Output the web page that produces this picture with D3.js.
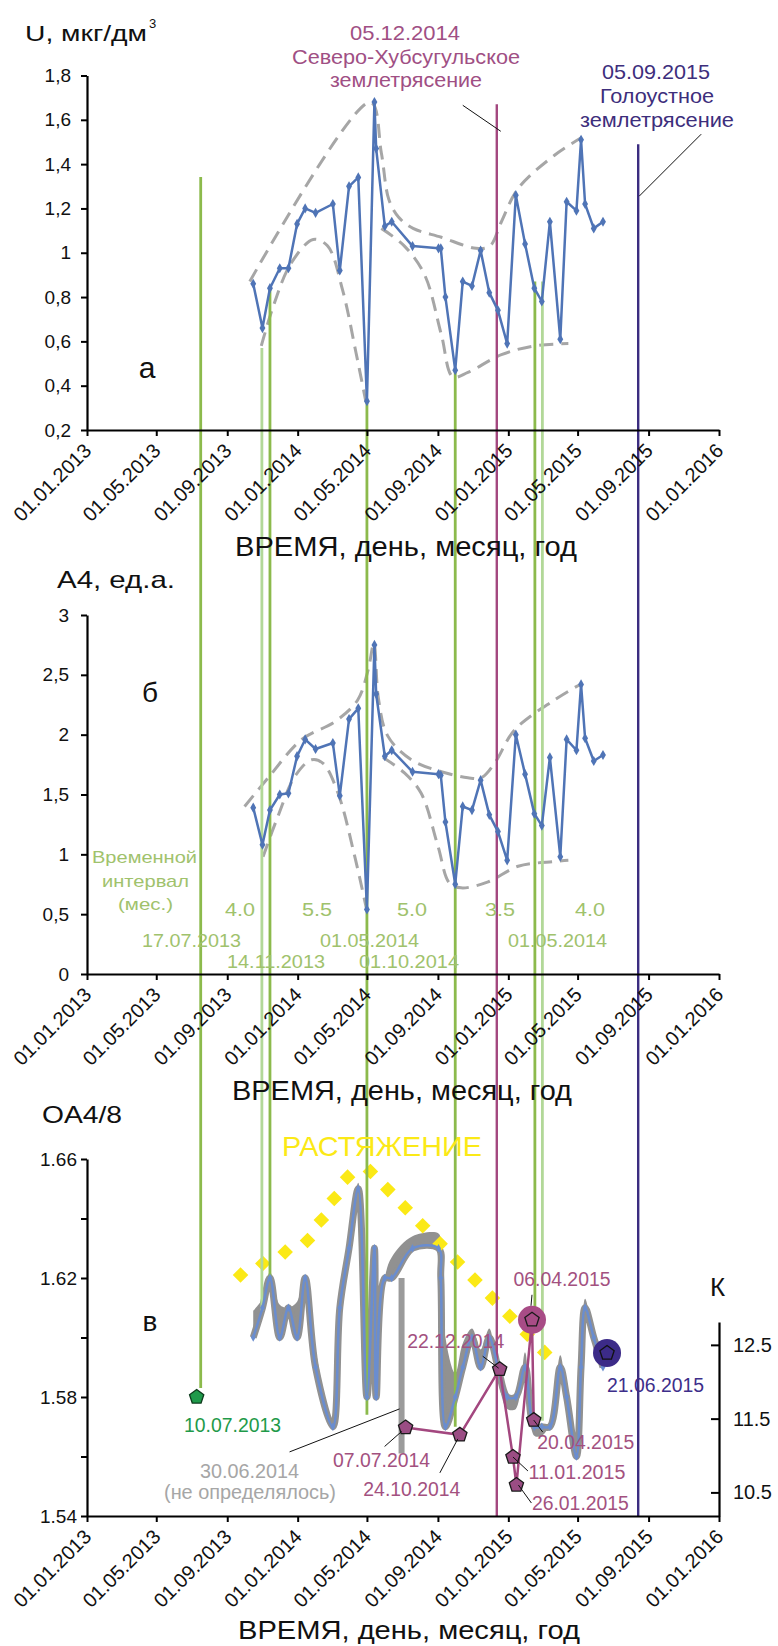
<!DOCTYPE html>
<html>
<head>
<meta charset="utf-8">
<script src="https://cdn.jsdelivr.net/npm/d3@7"></script>
<style>
  body { margin: 0; background: #fff; }
  text { font-family: "Liberation Sans", Arial, sans-serif; }
</style>
</head>
<body>
<svg id="chart"></svg>
<script>
// ---- data ----
var sampleDates = ["2013-10-16","2013-11-01","2013-11-14","2013-12-01","2013-12-16","2013-12-31",
  "2014-01-14","2014-02-01","2014-03-03","2014-03-15","2014-03-31","2014-04-16","2014-05-01",
  "2014-05-14","2014-05-17","2014-06-01","2014-06-13","2014-07-19","2014-09-02","2014-09-06",
  "2014-09-14","2014-10-01","2014-10-14","2014-10-30","2014-11-14","2014-11-29","2014-12-14",
  "2014-12-30","2015-01-14","2015-01-30","2015-02-15","2015-02-28","2015-03-14","2015-04-01",
  "2015-04-12","2015-04-29","2015-05-07","2015-05-14","2015-05-29","2015-06-14"];
var uValues = [0.86,0.66,0.84,0.93,0.93,1.13,1.20,1.18,1.22,0.92,1.30,1.34,0.33,1.68,1.47,1.12,1.14,1.03,1.02,1.02,
  0.80,0.47,0.87,0.85,1.01,0.82,0.74,0.59,1.26,1.04,0.84,0.78,1.14,0.61,1.23,1.19,1.51,1.22,1.11,1.14];
var a4Values = [1.39,1.08,1.37,1.50,1.51,1.82,1.96,1.88,1.93,1.49,2.13,2.22,0.54,2.75,2.34,1.82,1.87,1.69,1.67,1.66,
  1.27,0.75,1.40,1.37,1.62,1.33,1.19,0.95,2.00,1.67,1.34,1.24,1.81,0.98,1.96,1.87,2.42,1.97,1.78,1.83];
var oaValues = [1.60,1.61,1.62,1.60,1.61,1.60,1.62,1.59,1.57,1.61,1.63,1.65,1.58,1.63,1.58,1.62,1.62,1.63,1.63,1.62,
  1.57,1.58,1.59,1.60,1.59,1.60,1.59,1.58,1.58,1.59,1.57,1.57,1.57,1.59,1.58,1.56,1.59,1.61,1.60,1.59];
// edge of the grey band around the OA4/8 curve
var oaShade = [1.609,1.613,1.622,1.611,1.610,1.612,1.621,1.596,1.570,1.610,1.632,1.652,1.580,1.630,1.580,1.620,1.627,1.634,1.635,1.632,
  1.600,1.588,1.598,1.603,1.596,1.603,1.586,1.576,1.576,1.595,1.567,1.567,1.571,1.594,1.580,1.562,1.592,1.613,1.600,1.590];

// dashed envelopes
var uUpper = [["2013-10-10",0.87],["2014-05-07",1.68],["2014-05-26",1.45],["2014-06-08",1.24],["2014-06-25",1.16],
  ["2014-07-20",1.11],["2014-09-07",1.07],["2014-11-06",1.02],["2014-11-30",1.03],["2014-12-20",1.14],
  ["2015-01-18",1.29],["2015-03-22",1.44],["2015-05-08",1.52]];
var uLower1 = [["2013-10-30",0.58],["2013-11-20",0.76],["2013-12-20",0.95],["2014-01-28",1.06],["2014-02-22",1.03],
  ["2014-03-20",0.83],["2014-04-12",0.55],["2014-04-29",0.33]];
var uLower2 = [["2014-05-26",1.11],["2014-07-05",1.03],["2014-08-09",0.90],["2014-09-07",0.63],["2014-09-27",0.44],
  ["2014-10-23",0.46],["2014-12-20",0.54],["2015-02-16",0.58],["2015-04-15",0.59]];
var a4Upper = [["2013-10-01",1.40],["2013-11-11",1.64],["2014-01-08",1.96],["2014-03-07",2.11],["2014-04-15",2.29],
  ["2014-05-03",2.54],["2014-05-13",2.76],["2014-05-21",2.30],["2014-06-06",1.99],["2014-07-17",1.79],
  ["2014-09-07",1.69],["2014-10-23",1.64],["2014-11-15",1.64],["2014-12-08",1.76],["2015-01-12",2.04],
  ["2015-03-22",2.29],["2015-05-09",2.43]];
var a4Lower1 = [["2013-11-02",0.98],["2013-11-28",1.32],["2013-12-27",1.65],["2014-01-25",1.79],["2014-02-14",1.76],
  ["2014-03-12",1.51],["2014-04-10",0.98],["2014-04-30",0.55]];
var a4Lower2 = [["2014-05-29",1.81],["2014-07-05",1.68],["2014-08-03",1.51],["2014-09-01",1.07],["2014-09-21",0.76],
  ["2014-10-11",0.72],["2014-11-27",0.77],["2015-01-18",0.90],["2015-03-22",0.94],["2015-04-15",0.95]];

// "РАСТЯЖЕНИЕ" trend (yellow)
var stretchLine = [["2013-09-24",1.621],["2014-01-22",1.633],["2014-03-03",1.646],["2014-04-01",1.655],
  ["2014-05-06",1.656],["2015-03-05",1.595]];

// K series (right axis)
var kDates = ["2014-07-07","2014-10-09","2014-12-17","2015-01-09","2015-01-15","2015-02-11","2015-02-14"];
var kValues = [11.38,11.28,12.17,10.98,10.60,12.84,11.48];
var kLabels = ["07.07.2014","24.10.2014","22.12.2014","11.01.2015","26.01.2015","06.04.2015","20.04.2015"];
var kLastDate = "2015-06-21", kLastValue = 12.39, kLastLabel = "21.06.2015";
var firstDate = "2013-07-10", firstValue = 1.58, firstLabel = "10.07.2013";
var gapDate = "2014-06-30", gapRange = [1.561, 1.620];

// vertical marker lines across all panels
var vlineDates = ["2013-07-17","2013-10-31","2013-11-14","2014-05-01","2014-10-01","2015-02-16","2015-03-01","2014-12-12","2015-08-14"];
var vlineKinds = ["green","light","green","green","green","green","light","quake1","quake2"];
var vlineTop = [1.342,0.57,0.84,0.33,0.47,0.87,0.87,1.67,1.49];      // panel a value
var vlineBottom = [1.583,1.609,1.619,1.574,1.570,1.609,1.572,1.54,1.54]; // panel c value

var intervalLabels = ["4.0","5.5","5.0","3.5","4.0"];
var uTicks = [0.2,0.4,0.6,0.8,1,1.2,1.4,1.6,1.8];
var a4Ticks = [0,0.5,1,1.5,2,2.5,3];
var oaTicks = [1.54,1.56,1.58,1.60,1.62,1.64,1.66];
var oaLabelled = [1.54,1.58,1.62,1.66];
var kTicks = [10.5,11.5,12.5];
var kExtent = [10.18,12.81];
var xTicks = ["2013-01-01","2013-05-01","2013-09-01","2014-01-01","2014-05-01","2014-09-01",
  "2015-01-01","2015-05-01","2015-09-01","2016-01-01"];

// ---- setup ----
var parseDate = d3.utcParse("%Y-%m-%d");
var fmtDate = d3.utcFormat("%d.%m.%Y");
var ru = d3.formatLocale({decimal: ",", thousands: "\u00a0", grouping: [3], currency: ["", ""]});
var fmtComma = ru.format(".1~f");

var svg = d3.select("#chart").attr("width", 778).attr("height", 1646);

var x = d3.scaleUtc().domain([parseDate("2013-01-01"), parseDate("2016-01-01")]).range([87, 719]);
var yA = d3.scaleLinear().domain([0.2, 1.8]).range([430, 75.5]);
var yB = d3.scaleLinear().domain([0, 3]).range([974, 615]);
var yC = d3.scaleLinear().domain([1.54, 1.66]).range([1516, 1159]);
var yK = d3.scaleLinear().domain(kExtent).range([1516, 1322]);

var BLUE = "#4f74b6", BLUE_C = "#6a8dcf", GREY = "#a6a6a6", BAND = "#919191";
var MAG = "#a3477f", IND = "#3b2d80", GREEN_TXT = "#a0c26c", YELLOW = "#fbe916";
var vlineColor = {green: "#8cba4c", light: "#b2d898", quake1: MAG, quake2: IND};

var samples = sampleDates.map(function(d, i) {
  return {date: parseDate(d), u: uValues[i], a4: a4Values[i], oa: oaValues[i], shade: oaShade[i]};
});
function pairs(arr) { return arr.map(function(p) { return {date: parseDate(p[0]), v: p[1]}; }); }

function addText(x0, y0, str, size, color, len, anchor) {
  var t = svg.append("text").attr("x", x0).attr("y", y0)
    .attr("font-size", size).attr("fill", color).text(str);
  if (len) t.attr("textLength", len).attr("lengthAdjust", "spacingAndGlyphs");
  if (anchor) t.attr("text-anchor", anchor);
  return t;
}
function pentagon(r) {
  var pts = d3.range(5).map(function(k) {
    var a = -Math.PI / 2 + k * 2 * Math.PI / 5;
    return [r * Math.cos(a), r * Math.sin(a)];
  });
  return "M" + pts.join("L") + "Z";
}

// ---- dashed envelopes (panels a, b) ----
function envelope(data, yScale) {
  svg.append("path").datum(pairs(data))
    .attr("d", d3.line().x(function(d) { return x(d.date); }).y(function(d) { return yScale(d.v); })
      .curve(d3.curveCatmullRom.alpha(0.5)))
    .attr("fill", "none").attr("stroke", GREY).attr("stroke-width", 3)
    .attr("stroke-dasharray", "14,8");
}
envelope(uUpper, yA); envelope(uLower1, yA); envelope(uLower2, yA);
envelope(a4Upper, yB); envelope(a4Lower1, yB); envelope(a4Lower2, yB);

// ---- grey band of panel c ----
var smooth = d3.curveCatmullRom.alpha(0.5);
svg.append("path").datum(samples)
  .attr("d", d3.area().x(function(d) { return x(d.date); })
    .y0(function(d) { return yC(d.oa); }).y1(function(d) { return yC(d.shade); }).curve(smooth))
  .attr("fill", BAND);
svg.append("path").datum(samples)
  .attr("d", d3.line().x(function(d) { return x(d.date); }).y(function(d) { return yC(d.oa); }).curve(smooth))
  .attr("fill", "none").attr("stroke", BAND).attr("stroke-width", 7).attr("stroke-linejoin", "round");

// gap bar 30.06.2014
svg.append("rect").attr("x", x(parseDate(gapDate)) - 3).attr("width", 6)
  .attr("y", yC(gapRange[1])).attr("height", yC(gapRange[0]) - yC(gapRange[1]))
  .attr("fill", "#9b9b9b");

// ---- yellow "РАСТЯЖЕНИЕ" trend, diamonds along the path ----
var stretchPath = svg.append("path").datum(pairs(stretchLine))
  .attr("d", d3.line().x(function(d) { return x(d.date); }).y(function(d) { return yC(d.v); }))
  .attr("fill", "none").attr("stroke", "none");
var total = stretchPath.node().getTotalLength();
var steps = d3.range(0, total + 1, total / 17);
svg.selectAll(".stretch").data(steps).enter().append("rect")
  .attr("class", "stretch")
  .attr("x", -5.5).attr("y", -5.5).attr("width", 11).attr("height", 11)
  .attr("fill", YELLOW)
  .attr("transform", function(s) {
    var p = stretchPath.node().getPointAtLength(s);
    return "translate(" + p.x + "," + p.y + ") rotate(45)";
  });

// ---- vertical lines ----
vlineDates.forEach(function(d, i) {
  var xx = x(parseDate(d));
  svg.append("line").attr("x1", xx).attr("x2", xx)
    .attr("y1", yA(vlineTop[i])).attr("y2", yC(vlineBottom[i]))
    .attr("stroke", vlineColor[vlineKinds[i]])
    .attr("stroke-width", vlineKinds[i].indexOf("quake") === 0 ? 2.4 : 2.8);
});

// ---- blue series ----
function series(key, yScale, color, curve, msize) {
  var ln = d3.line().x(function(d) { return x(d.date); }).y(function(d) { return yScale(d[key]); });
  if (curve) ln.curve(curve);
  svg.append("path").datum(samples).attr("d", ln)
    .attr("fill", "none").attr("stroke", color).attr("stroke-width", 2.5).attr("stroke-linejoin", "round");
  svg.append("g").selectAll("path").data(samples).enter().append("path")
    .attr("d", d3.symbol().type(d3.symbolDiamond).size(msize))
    .attr("transform", function(d) { return "translate(" + x(d.date) + "," + yScale(d[key]) + ")"; })
    .attr("fill", color);
}
series("u", yA, BLUE, null, 30);
series("a4", yB, BLUE, null, 30);
series("oa", yC, BLUE_C, smooth, 20);

// ---- K series ----
var kPts = kDates.map(function(d, i) { return {date: parseDate(d), k: kValues[i], label: kLabels[i]}; });
svg.append("path").datum(kPts)
  .attr("d", d3.line().x(function(d) { return x(d.date); }).y(function(d) { return yK(d.k); }))
  .attr("fill", "none").attr("stroke", MAG).attr("stroke-width", 2.5);

var bigPt = kPts[5];
svg.append("circle").attr("cx", x(bigPt.date)).attr("cy", yK(bigPt.k)).attr("r", 14).attr("fill", "#a84c86");
svg.append("circle").attr("cx", x(parseDate(kLastDate))).attr("cy", yK(kLastValue)).attr("r", 14).attr("fill", "#3c2b88");

svg.selectAll(".kpt").data(kPts).enter().append("path").attr("class", "kpt")
  .attr("d", pentagon(7.5))
  .attr("transform", function(d) { return "translate(" + x(d.date) + "," + yK(d.k) + ")"; })
  .attr("fill", function(d, i) { return i === 5 ? "#a84c86" : "#9b4d84"; })
  .attr("stroke", "#1a1a1a").attr("stroke-width", 1.3);
svg.append("path").attr("d", pentagon(7.5))
  .attr("transform", "translate(" + x(parseDate(kLastDate)) + "," + yK(kLastValue) + ")")
  .attr("fill", "#3c2b88").attr("stroke", "#111").attr("stroke-width", 1.3);
svg.append("path").attr("d", pentagon(7.5))
  .attr("transform", "translate(" + x(parseDate(firstDate)) + "," + yC(firstValue) + ")")
  .attr("fill", "#1f9a4a").attr("stroke", "#0d3b1c").attr("stroke-width", 1.3);

// labels + leader lines for K points (offsets in px from the point)
var kLabelOffset = [[-24, 40], [-48, 61], [-44, -21], [64, 22], [64, 25], [30, -34], [52, 29]];
var kLeader = [[[-4, 4], [-21, 19]], [[-2, 4], [-20, 38]], [[-17, -13], [-1, -1]], [[0, 0], [15, 14]],
  [[2, 0], [15, 18]], [[0, -25], [-1, -14]], [[0, 0], [9, 12]]];
kPts.forEach(function(d, i) {
  var px = x(d.date), py = yK(d.k);
  svg.append("line").attr("x1", px + kLeader[i][0][0]).attr("y1", py + kLeader[i][0][1])
    .attr("x2", px + kLeader[i][1][0]).attr("y2", py + kLeader[i][1][1])
    .attr("stroke", "#111").attr("stroke-width", 1);
  addText(px + kLabelOffset[i][0], py + kLabelOffset[i][1], d.label, 20, "#a3517f", 97, "middle");
});
addText(607, 1392, kLastLabel, 20, "#3d2e8a", 97);
addText(184, 1432, firstLabel, 20, "#1f9a4a", 97);

// leader + label for the missing 30.06.2014 point
var gx = x(parseDate(gapDate)), gy = yC(1.576);
svg.append("line").attr("x1", gx - 2).attr("y1", gy).attr("x2", gx - 112).attr("y2", gy + 43)
  .attr("stroke", "#111").attr("stroke-width", 1);
addText(200, 1478, "30.06.2014", 20, "#a6a6a6", 99);
addText(164, 1499, "(не определялось)", 20, "#a6a6a6", 172);

// ---- axes ----
function xAxis(yPos) {
  var g = svg.append("g").attr("transform", "translate(0," + yPos + ")")
    .call(d3.axisBottom(x).tickValues(xTicks.map(parseDate)).tickSize(6).tickSizeOuter(0).tickFormat(fmtDate));
  g.select(".domain").attr("stroke", "#000").attr("stroke-width", 2.2);
  g.selectAll(".tick line").attr("stroke", "#000").attr("stroke-width", 2);
  g.selectAll(".tick text").attr("font-size", 20).attr("fill", "#111")
    .attr("font-family", "'Liberation Sans', Arial, sans-serif")
    .attr("text-anchor", "end").attr("x", 0).attr("y", 0).attr("dy", null)
    .attr("transform", "translate(5,22) rotate(-45)");
}
function yAxis(scale, ticks, fmt, pad) {
  var g = svg.append("g").attr("transform", "translate(87,0)")
    .call(d3.axisLeft(scale).tickValues(ticks).tickSize(6).tickSizeOuter(0).tickPadding(pad).tickFormat(fmt));
  g.select(".domain").attr("stroke", "#000").attr("stroke-width", 2.2);
  g.selectAll(".tick line").attr("stroke", "#000").attr("stroke-width", 2);
  g.selectAll(".tick text").attr("font-size", 19).attr("fill", "#111")
    .attr("font-family", "'Liberation Sans', Arial, sans-serif");
}
xAxis(430); xAxis(974); xAxis(1516);
yAxis(yA, uTicks, fmtComma, 10);
yAxis(yB, a4Ticks, fmtComma, 12);
yAxis(yC, oaTicks, function(d) {
  return oaLabelled.some(function(v) { return Math.abs(v - d) < 1e-9; }) ? d3.format(".2f")(d) : "";
}, 4);

var kAxis = svg.append("g").attr("transform", "translate(719,0)")
  .call(d3.axisRight(yK).tickValues(kTicks).tickSize(-8).tickSizeOuter(0).tickPadding(14).tickFormat(d3.format(".1f")));
kAxis.select(".domain").attr("stroke", "#000").attr("stroke-width", 2.2);
kAxis.selectAll(".tick line").attr("stroke", "#000").attr("stroke-width", 2);
kAxis.selectAll(".tick text").attr("font-size", 20).attr("fill", "#111")
  .attr("font-family", "'Liberation Sans', Arial, sans-serif");

// ---- titles and annotations ----
addText(25, 41, "U, мкг/дм", 22, "#111", 122);
addText(149, 28, "3", 13, "#111");
addText(57, 588, "A4, ед.а.", 24, "#111", 118);
addText(42, 1123, "OA4/8", 24, "#111", 80);
addText(147, 378, "а", 30, "#111", null, "middle");
addText(150, 702, "б", 28, "#111", null, "middle");
addText(150, 1331, "в", 28, "#111", null, "middle");
addText(235, 556, "ВРЕМЯ, день, месяц, год", 27, "#111", 342);
addText(232, 1100, "ВРЕМЯ, день, месяц, год", 27, "#111", 340);
addText(238, 1639, "ВРЕМЯ, день, месяц, год", 26, "#111", 342);
addText(282, 1156, "РАСТЯЖЕНИЕ", 28, YELLOW, 200);
addText(710, 1296, "К", 26, "#111");

addText(350, 40, "05.12.2014", 21, "#a04f84", 110);
addText(292, 64, "Северо-Хубсугульское", 21, "#a04f84", 228);
addText(330, 87, "землетрясение", 21, "#a04f84", 152);
addText(602, 79, "05.09.2015", 21, "#3d2e7c", 108);
addText(600, 103, "Голоустное", 21, "#3d2e7c", 114);
addText(580, 127, "землетрясение", 21, "#3d2e7c", 154);
// earthquake leaders, relative to the top of each quake line
[[7, -34, 1, 4, 27], [8, 63, -10, 1, 52]].forEach(function(q) {
  var qx = x(parseDate(vlineDates[q[0]])), qy = yA(vlineTop[q[0]]);
  svg.append("line").attr("x1", qx + q[1]).attr("y1", qy + q[2]).attr("x2", qx + q[3]).attr("y2", qy + q[4])
    .attr("stroke", "#111").attr("stroke-width", 1);
});

addText(92, 863, "Временной", 17, GREEN_TXT, 105);
addText(102, 887, "интервал", 17, GREEN_TXT, 87);
addText(118, 910, "(мес.)", 17, GREEN_TXT, 55);
var intervalX = [225, 302, 397, 485, 575];
intervalLabels.forEach(function(s, i) { addText(intervalX[i], 916, s, 19, GREEN_TXT, 30); });
addText(142, 947, "17.07.2013", 19, GREEN_TXT, 99);
addText(227, 968, "14.11.2013", 19, GREEN_TXT, 98);
addText(320, 947, "01.05.2014", 19, GREEN_TXT, 99);
addText(359, 968, "01.10.2014", 19, GREEN_TXT, 100);
addText(508, 947, "01.05.2014", 19, GREEN_TXT, 99);
</script>
</body>
</html>
